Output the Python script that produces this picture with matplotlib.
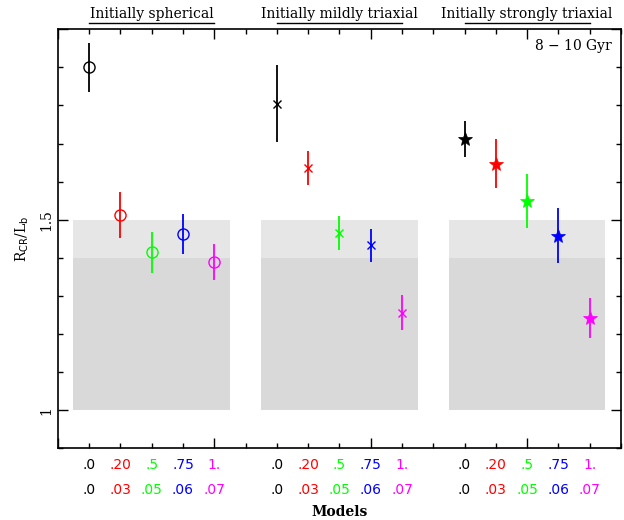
import matplotlib
matplotlib.use("Agg")
import matplotlib.pyplot as plt
from matplotlib.ticker import MultipleLocator, FixedLocator
import matplotlib.transforms as mtransforms

# models (row 1 and row 2 of the x labels) and their colours
model_row1 = ['.0', '.20', '.5', '.75', '1.']
model_row2 = ['.0', '.03', '.05', '.06', '.07']
model_colors = ['black', 'red', '#00ff00', 'blue', 'magenta']

group_names = ['Initially spherical', 'Initially mildly triaxial', 'Initially strongly triaxial']
group_markers = ['o', 'x', '*']

# R_CR / L_b values and error bars
spherical = [1.900, 1.513, 1.414, 1.463, 1.389]
spherical_err = [0.065, 0.060, 0.055, 0.052, 0.048]
mildly = [1.805, 1.635, 1.465, 1.433, 1.256]
mildly_err = [0.100, 0.045, 0.045, 0.043, 0.046]
strongly = [1.712, 1.647, 1.548, 1.458, 1.242]
strongly_err = [0.048, 0.064, 0.071, 0.072, 0.052]

# shaded reference ranges
band_outer = (1.0, 1.5)
band_inner = (1.0, 1.4)

values = [spherical, mildly, strongly]
errors = [spherical_err, mildly_err, strongly_err]

plt.rcParams['font.family'] = 'DejaVu Serif'

fig = plt.figure(figsize=(6.24, 5.2), dpi=100)
ax = fig.add_axes([0.0926, 0.1379, 0.9026, 0.8058])
trans = mtransforms.blended_transform_factory(ax.transData, fig.transFigure)

for g in range(3):
    x0 = 6 * g + 1
    xs = [x0 + i for i in range(5)]
    ax.fill_between([x0 - 0.5, x0 + 4.5], band_outer[0], band_outer[1],
                    color='#e6e6e6', lw=0, zorder=0)
    ax.fill_between([x0 - 0.5, x0 + 4.5], band_inner[0], band_inner[1],
                    color='#d9d9d9', lw=0, zorder=0)
    for i in range(5):
        c = model_colors[i]
        m = group_markers[g]
        if m == 'o':
            kw = dict(marker='o', ms=8, mfc='none', mec=c, mew=1.0)
        elif m == 'x':
            kw = dict(marker='x', ms=6, mec=c, mew=1.0)
        else:
            kw = dict(marker='*', ms=10, mfc=c, mec=c, mew=0.5)
        ax.errorbar(xs[i], values[g][i], yerr=errors[g][i], fmt='none',
                    ecolor=c, elinewidth=1.3, capsize=0, zorder=2)
        ax.plot(xs[i], values[g][i], linestyle='none', zorder=3, **kw)

    # group header with underline
    ax.text(x0 + 2, 1 - 14 / 520, group_names[g], ha='center', va='center',
            fontsize=10, transform=trans)
    ax.plot([x0, x0 + 4], [1 - 22.5 / 520] * 2, color='black', lw=1.0,
            transform=trans, clip_on=False)

    # model labels below the axis
    for i in range(5):
        ax.text(xs[i], 1 - 465 / 520, model_row1[i], color=model_colors[i],
                ha='center', va='center', fontsize=10, family='DejaVu Sans',
                transform=trans)
        ax.text(xs[i], 1 - 490 / 520, model_row2[i], color=model_colors[i],
                ha='center', va='center', fontsize=10, family='DejaVu Sans',
                transform=trans)

ax.set_xlim(0, 18)
ax.set_ylim(0.9, 2.0)

ax.xaxis.set_major_locator(MultipleLocator(5))
ax.xaxis.set_minor_locator(MultipleLocator(1))
ax.xaxis.set_major_formatter(plt.NullFormatter())
ax.yaxis.set_major_locator(FixedLocator([1.0, 1.5, 2.0]))
ax.yaxis.set_minor_locator(MultipleLocator(0.1))
ax.set_yticklabels(['1', '1.5', ''])
plt.setp(ax.get_yticklabels(), rotation=90, va='center', fontsize=10)

ax.tick_params(which='both', direction='in', top=True, right=True, width=1.0)
ax.tick_params(which='major', length=7)
ax.tick_params(which='minor', length=3.5)
for s in ax.spines.values():
    s.set_linewidth(1.2)

ax.text(0.985, 0.96, '8 $-$ 10 Gyr', transform=ax.transAxes, ha='right',
        va='center', fontsize=10)

ax.set_ylabel(r'R$_{\rm CR}$/L$_{\rm b}$', fontsize=10, labelpad=6)
fig.text(0.5 * (0.0926 + 0.9952), 1 - 512 / 520, 'Models', ha='center',
         va='center', fontsize=10, fontweight='bold')

fig.savefig('out.png', dpi=100)
